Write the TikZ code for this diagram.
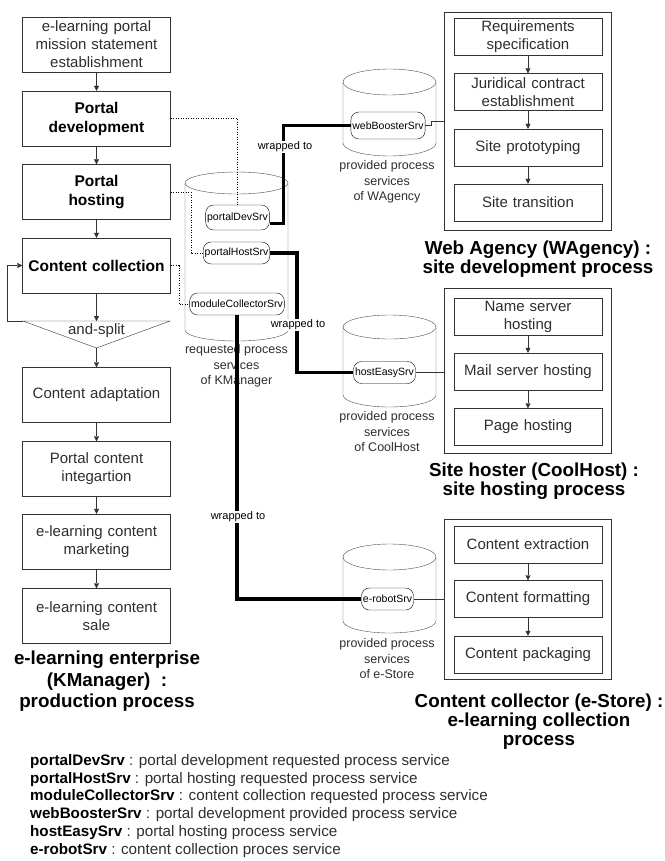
\documentclass[tikz,border=0pt]{standalone}
\usepackage{fontspec}
\setmainfont{Liberation Sans}
\usetikzlibrary{arrows.meta}
\definecolor{linegray}{gray}{0.2}
\definecolor{textgray}{gray}{0.18}

\begin{document}
\begin{tikzpicture}[x=1pt,y=-1pt,
    task/.style={draw=linegray,text=textgray,text width=140pt,inner xsep=4pt,align=center,font=\fontsize{15}{18}\selectfont},
    ktask/.style={task,minimum height=55pt},
    kbold/.style={text=black,font=\fontsize{15.5}{19}\selectfont\bfseries},
    ptask/.style={task,inner ysep=1pt,minimum height=37pt},
    pool/.style={draw=linegray,inner sep=0pt,minimum width=167pt},
    srv/.style={draw=black,rounded corners=8pt,inner xsep=1.5pt,inner ysep=0pt,minimum height=22pt,font=\fontsize{10.5}{12}\selectfont},
    drum/.style={draw=black!70},
    lab/.style={text=textgray,align=center,font=\fontsize{12.5}{15.5}\selectfont},
    wrapnote/.style={fill=white,inner sep=1pt,font=\fontsize{11}{13}\selectfont},
    ptitle/.style={align=center,font=\fontsize{18.8}{19}\selectfont\bfseries},
    flow/.style={draw=linegray,-{Triangle[length=5pt,width=5pt]}},
    link/.style={dash pattern=on 1pt off 1.5pt},
    bind/.style={line width=3.5pt}]
    \useasboundingbox (0,0) rectangle (664,861);

    % KManager production process
    \node[ktask] (mission) at (96.5,44.5) {e-learning portal\\mission statement\\establishment};
    \node[ktask,kbold] (pdev) at (96.5,118.5) {Portal\\development};
    \node[ktask,kbold] (phost) at (96.5,192) {Portal\\hosting};
    \node[ktask,kbold] (ccoll) at (96.5,265.5) {Content collection};
    \node[ktask] (cadapt) at (96.5,395) {Content adaptation};
    \node[ktask] (cinteg) at (96.5,469) {Portal content\\integartion};
    \node[ktask] (cmark) at (96.5,541.5) {e-learning content\\marketing};
    \node[ktask] (csale) at (96.5,616) {e-learning content\\sale};
    \coordinate (splitTL) at (23,321);
    \coordinate (splitTR) at (170,321);
    \coordinate (splitB) at (96.5,348);
    \coordinate (loopc) at (7,321);
    \draw[linegray] (splitTL) -- (splitTR) -- (splitB) -- cycle;
    \node[text=textgray,font=\fontsize{15}{18}\selectfont] (andsplit) at (96.5,331) {and-split};
    \draw[flow] (mission) -- (pdev);
    \draw[flow] (pdev) -- (phost);
    \draw[flow] (phost) -- (ccoll);
    \draw[flow] (ccoll) -- (ccoll.south |- splitTL);
    \draw[flow] (splitTL) -- (loopc) |- (ccoll.west);
    \draw[flow] (splitB) -- (cadapt);
    \draw[flow] (cadapt) -- (cinteg);
    \draw[flow] (cinteg) -- (cmark);
    \draw[flow] (cmark) -- (csale);
    \node[ptitle,font=\fontsize{18.8}{21.5}\selectfont\bfseries] (ktitle) at (107,681.5) {e-learning enterprise\\(KManager)\ \ :\\production process};

    % requested process services
    \draw[drum] (236.5,183) ellipse [x radius=51.5pt,y radius=11pt];
    \draw[drum] (185,183) -- (185,330) arc[start angle=180,end angle=360,x radius=51.5pt,y radius=11pt] -- (288,183);
    \node[srv,minimum height=25pt] (devsrv) at (237.5,217.5) {portalDevSrv};
    \node[srv] (hostsrv) at (236.5,253) {portalHostSrv};
    \node[srv] (modsrv) at (237,304) {moduleCollectorSrv};
    \node[lab] (klab) at (236.5,366) {requested process\\services\\of KManager};

    % provided process services
    \draw[drum] (389.5,82) ellipse [x radius=46.5pt,y radius=13pt];
    \draw[drum] (343,82) -- (343,143) arc[start angle=180,end angle=360,x radius=46.5pt,y radius=13pt] -- (436,82);
    \draw[drum] (389.5,327) ellipse [x radius=46.5pt,y radius=12pt];
    \draw[drum] (343,327) -- (343,395) arc[start angle=180,end angle=360,x radius=46.5pt,y radius=12pt] -- (436,327);
    \draw[drum] (389.5,557) ellipse [x radius=46.5pt,y radius=13pt];
    \draw[drum] (343,557) -- (343,621) arc[start angle=180,end angle=360,x radius=46.5pt,y radius=12pt] -- (436,557);
    \node[srv,minimum height=27pt] (websrv) at (388,125.5) {webBoosterSrv};
    \node[srv] (easysrv) at (384.5,372.5) {hostEasySrv};
    \node[srv] (robotsrv) at (387.5,599) {e-robotSrv};
    \node[lab] (wlab) at (387,182) {provided process\\services\\of WAgency};
    \node[lab] (clab) at (387,432) {provided process\\services\\of CoolHost};
    \node[lab] (elab) at (387,659) {provided process\\services\\of e-Store};

    % partner processes
    \node[pool,minimum height=218pt] (wagency) at (527.5,121) {};
    \node[pool,minimum height=165pt] (coolhost) at (527.5,370.5) {};
    \node[pool,minimum height=160pt] (estore) at (527.5,599) {};
    \node[ptask] (req) at (528,36.5) {Requirements\\specification};
    \node[ptask] (jur) at (528,92) {Juridical contract\\establishment};
    \node[ptask] (proto) at (528,147.5) {Site prototyping};
    \node[ptask] (trans) at (528,202.5) {Site transition};
    \node[ptask] (nameh) at (528,316.5) {Name server\\hosting};
    \node[ptask] (mailh) at (528,371.5) {Mail server hosting};
    \node[ptask] (pageh) at (528,427) {Page hosting};
    \node[ptask] (extr) at (528,544.5) {Content extraction};
    \node[ptask] (form) at (528,599) {Content formatting};
    \node[ptask] (pack) at (528,654.5) {Content packaging};
    \draw[flow] (req) -- (jur);
    \draw[flow] (jur) -- (proto);
    \draw[flow] (proto) -- (trans);
    \draw[flow] (nameh) -- (mailh);
    \draw[flow] (mailh) -- (pageh);
    \draw[flow] (extr) -- (form);
    \draw[flow] (form) -- (pack);
    \node[ptitle] (wtitle) at (538,259) {Web Agency (WAgency) :\\site development process};
    \node[ptitle] (ctitle) at (534,481) {Site hoster (CoolHost) :\\site hosting process};
    \node[ptitle] (etitle) at (539,722) {Content collector (e-Store) :\\e-learning collection\\process};

    % dotted: steps to requested services
    \draw[link] (pdev) -| (devsrv);
    \draw[link] (phost.east) -- ++(20,0) |- (hostsrv);
    \draw[link] (ccoll.east) -- ++(8,0) |- (modsrv);

    % wrapped to
    \draw[bind] ([yshift=-6pt]devsrv.east) -- ++(14,0) |- (websrv);
    \draw[bind] (hostsrv.east) -- ++(27,0) |- (easysrv);
    \draw[bind] (modsrv) |- (robotsrv);
    \node[wrapnote] (wrapdev) at (285,147) {wrapped to};
    \node[wrapnote] (wraphost) at (298,325) {wrapped to};
    \node[wrapnote] (wrapmod) at (238,517) {wrapped to};

    % services to processes
    \draw[linegray] (websrv.east) -- ++(6,0) |- (wagency.west);
    \draw[linegray] (easysrv) -- (easysrv -| coolhost.west);
    \draw[linegray] (robotsrv) -- (robotsrv -| estore.west);

    % legend
    \node[anchor=north west,inner sep=0pt,align=left,text=textgray,font=\fontsize{15.2}{17.8}\selectfont] (legend) at (30,754) {%
      \textcolor{black}{\textbf{portalDevSrv}} : portal development requested process service\\
      \textcolor{black}{\textbf{portalHostSrv}} : portal hosting requested process service\\
      \textcolor{black}{\textbf{moduleCollectorSrv}} : content collection requested process service\\
      \textcolor{black}{\textbf{webBoosterSrv}} : portal development provided process service\\
      \textcolor{black}{\textbf{hostEasySrv}} : portal hosting process service\\
      \textcolor{black}{\textbf{e-robotSrv}} : content collection proces service};
\end{tikzpicture}
\end{document}
